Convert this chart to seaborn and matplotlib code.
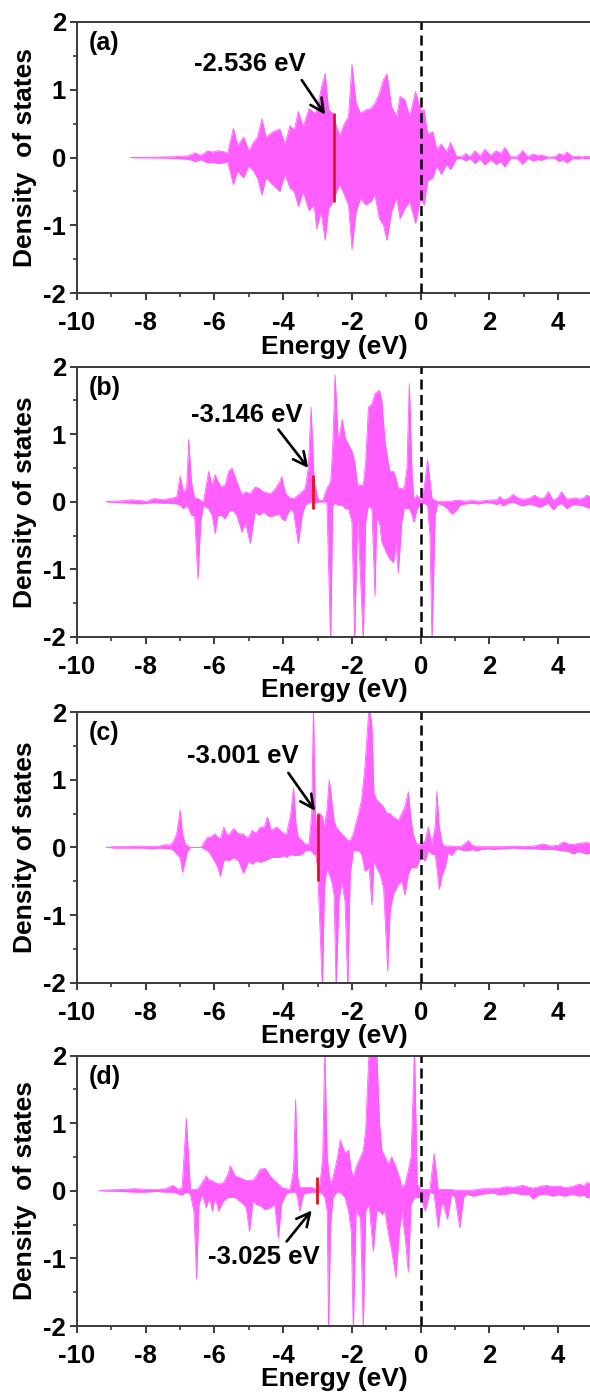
import matplotlib
matplotlib.use("Agg")
import matplotlib.pyplot as plt
import seaborn as sns
import numpy as np

# ---------------- data ----------------
energy_a = [-8.45, -8.3, -8.0, -7.7, -7.4, -7.15, -6.95, -6.75, -6.56, -6.4, -6.2, -6.05, -5.9, -5.75,
            -5.62, -5.45, -5.33, -5.15, -5.0, -4.87, -4.75, -4.62, -4.5, -4.3, -4.1, -3.95, -3.8, -3.68,
            -3.56, -3.42, -3.25, -3.1, -3.03, -2.9, -2.78, -2.68, -2.55, -2.45, -2.35, -2.22, -2.1, -2.0,
            -1.88, -1.75, -1.6, -1.45, -1.33, -1.2, -1.08, -0.98, -0.85, -0.7, -0.6, -0.46, -0.32, -0.15,
            0.0, 0.1, 0.2, 0.35, 0.47, 0.6, 0.75, 0.87, 1.04, 1.18, 1.32, 1.43, 1.58, 1.72, 1.87, 2.03,
            2.2, 2.33, 2.45, 2.62, 2.8, 2.97, 3.12, 3.27, 3.4, 3.51, 3.7, 3.9, 4.03, 4.15, 4.26, 4.42,
            4.58, 4.7, 4.77, 4.95]
up_a = [0, 0.004, 0.005, 0.006, 0.008, 0.012, 0.02, 0.025, 0.07, 0.03, 0.1, 0.08, 0.1, 0.09,
        0.06, 0.43, 0.18, 0.3, 0.1, 0.22, 0.3, 0.57, 0.3, 0.38, 0.42, 0.2, 0.47, 0.4,
        0.68, 0.45, 0.72, 0.66, 0.68, 1.0, 1.24, 0.7, 0.65, 0.45, 0.33, 0.5, 0.6, 1.37,
        0.8, 0.65, 0.7, 0.72, 0.8, 0.95, 1.15, 1.23, 0.75, 0.6, 0.9, 0.85, 0.6, 0.97,
        0.7, 0.7, 0.35, 0.38, 0.12, 0.2, 0.08, 0.22, 0.02, 0.01, 0.06, 0.01, 0.1, 0.02, 0.12, 0.03,
        0.1, 0.06, 0.15, 0.01, 0.01, 0.1, 0.01, 0.05, 0.03, 0.04, 0.005, 0.01, 0.06, 0.03, 0.08, 0.01,
        0.02, 0.005, 0.02, 0.01]
down_a = [0, -0.004, -0.005, -0.006, -0.008, -0.012, -0.02, -0.025, -0.06, -0.03, -0.08, -0.07, -0.09, -0.08,
          -0.06, -0.4, -0.2, -0.3, -0.12, -0.2, -0.3, -0.55, -0.3, -0.4, -0.5, -0.25, -0.45, -0.5,
          -0.72, -0.5, -0.78, -0.7, -1.05, -0.8, -1.22, -0.75, -0.65, -0.5, -0.4, -0.55, -0.7, -1.35,
          -0.8, -0.6, -0.7, -0.65, -0.55, -0.9, -1.0, -1.22, -0.8, -0.6, -0.9, -0.75, -0.65, -0.97,
          -0.6, -0.7, -0.35, -0.3, -0.12, -0.25, -0.1, -0.18, -0.02, -0.01, -0.05, -0.01, -0.09, -0.02, -0.11, -0.03,
          -0.1, -0.06, -0.14, -0.01, -0.01, -0.1, -0.01, -0.05, -0.03, -0.04, -0.005, -0.01, -0.06, -0.03, -0.08, -0.01,
          -0.02, -0.005, -0.02, -0.01]

energy_b = [-9.15, -9.0, -8.7, -8.4, -8.2, -7.95, -7.76, -7.5, -7.3, -7.1, -7.0, -6.9, -6.81, -6.75,
            -6.67, -6.58, -6.48, -6.4, -6.32, -6.17, -6.07, -5.98, -5.9, -5.8, -5.69, -5.59, -5.49, -5.35,
            -5.2, -5.1, -4.96, -4.82, -4.7, -4.58, -4.45, -4.38, -4.25, -4.1, -4.04, -3.95, -3.89, -3.78,
            -3.7, -3.56, -3.45, -3.36, -3.27, -3.19, -3.1, -2.97, -2.85, -2.73, -2.62, -2.56, -2.49, -2.4,
            -2.28, -2.2, -2.1, -2.0, -1.92, -1.84, -1.76, -1.67, -1.6, -1.52, -1.42, -1.33, -1.28, -1.2,
            -1.13, -1.04, -0.95, -0.89, -0.79, -0.72, -0.65, -0.55, -0.48, -0.4, -0.33, -0.25, -0.2, -0.1,
            0.0, 0.1, 0.2, 0.27, 0.33, 0.42, 0.5, 0.65, 0.78, 0.9, 1.0, 1.15, 1.3, 1.5, 1.7, 1.9, 2.1,
            2.21, 2.3, 2.4, 2.55, 2.69, 2.85, 2.98, 3.15, 3.32, 3.45, 3.6, 3.71, 3.86, 3.98, 4.1, 4.25,
            4.4, 4.5, 4.63, 4.75, 4.83, 4.95]
up_b = [0, 0.01, 0.015, 0.03, 0.02, 0.01, 0.05, 0.03, 0.05, 0.07, 0.38, 0.15, 0.2, 0.92,
        0.3, 0.05, 0.05, 0.02, 0.0, 0.45, 0.25, 0.4, 0.3, 0.22, 0.25, 0.45, 0.5, 0.3,
        0.1, 0.15, 0.12, 0.22, 0.2, 0.15, 0.13, 0.12, 0.18, 0.3, 0.37, 0.15, 0.1, 0.05,
        0.05, 0.1, 0.15, 0.2, 0.5, 1.4, 0.3, 0.02, 0.02, 0.2, 0.3, 0.8, 1.88, 0.9,
        1.22, 0.95, 0.85, 0.75, 0.6, 0.25, 0.25, 0.25, 0.6, 1.4, 1.45, 1.6, 1.62, 1.65,
        1.5, 0.9, 0.6, 0.45, 0.45, 0.35, 0.2, 0.2, 0.18, 0.5, 1.75, 0.4, 0.05, 0.1,
        0.02, 0.2, 0.62, 0.3, 0.05, 0.02, 0.01, 0.01, 0.01, 0.01, 0.02, 0.02, 0.01, 0.02, 0.01, 0.02, 0.03,
        0.03, 0.08, 0.03, 0.05, 0.11, 0.05, 0.04, 0.05, 0.1, 0.05, 0.06, 0.15, 0.02, 0.06, 0.15, 0.04,
        0.05, 0.06, 0.04, 0.06, 0.1, 0.07]
down_b = [0, -0.005, -0.01, -0.02, -0.03, -0.02, -0.01, -0.02, -0.02, -0.03, -0.05, -0.1, -0.05, -0.1,
          -0.2, -0.2, -1.15, -0.3, -0.05, -0.1, -0.2, -0.47, -0.2, -0.2, -0.25, -0.15, -0.12, -0.2,
          -0.45, -0.3, -0.62, -0.15, -0.2, -0.15, -0.2, -0.22, -0.2, -0.18, -0.25, -0.28, -0.2, -0.1,
          -0.15, -0.62, -0.2, -0.05, -0.02, 0.0, -0.02, 0.0, 0.0, 0.0, -2.1, -0.05, -0.02, -0.05,
          -0.05, -0.1, -0.1, -0.3, -2.1, -0.2, -1.0, -2.1, -0.3, -0.05, -0.1, -1.4, -0.25, -0.3,
          -0.6, -0.7, -0.8, -0.85, -0.9, -0.6, -1.05, -0.3, -0.1, -0.1, -0.1, -0.2, -0.3, -0.1,
          -0.03, -0.02, -0.05, -0.5, -2.1, -0.2, -0.02, -0.05, -0.1, -0.18, -0.15, -0.05, -0.03, -0.02, -0.03, -0.01, -0.02,
          -0.04, -0.02, -0.06, -0.02, 0.0, -0.04, -0.06, -0.03, -0.05, -0.08, -0.05, -0.02, -0.12, -0.05, -0.02, -0.1,
          -0.05, -0.04, -0.05, -0.06, -0.08, -0.1]

energy_c = [-9.15, -8.9, -8.5, -8.1, -7.8, -7.6, -7.43, -7.3, -7.2, -7.1, -7.0, -6.93, -6.85, -6.78,
            -6.7, -6.38, -6.3, -6.2, -6.12, -6.0, -5.9, -5.83, -5.73, -5.65, -5.59, -5.44, -5.3, -5.16,
            -5.08, -5.01, -4.9, -4.8, -4.67, -4.55, -4.46, -4.35, -4.2, -4.09, -3.98, -3.9, -3.78, -3.7,
            -3.62, -3.56, -3.45, -3.36, -3.25, -3.17, -3.12, -3.06, -3.0, -2.93, -2.86, -2.8, -2.73, -2.66,
            -2.59, -2.52, -2.46, -2.38, -2.3, -2.2, -2.12, -2.05, -1.96, -1.81, -1.72, -1.62, -1.5, -1.42,
            -1.36, -1.28, -1.18, -1.08, -0.99, -0.96, -0.89, -0.8, -0.65, -0.55, -0.46, -0.36, -0.28, -0.22,
            -0.12, 0.0, 0.13, 0.22, 0.32, 0.42, 0.47, 0.54, 0.63, 0.71, 0.8, 0.9, 1.05, 1.2, 1.39, 1.5,
            1.63, 1.8, 2.0, 2.11, 2.4, 2.69, 3.0, 3.3, 3.56, 3.8, 4.0, 4.15, 4.3, 4.44, 4.6, 4.83, 4.95]
up_c = [0, 0.01, 0.01, 0.02, 0.01, 0.02, 0.04, 0.03, 0.08, 0.2, 0.55, 0.2, 0.05, 0.02,
        0.0, 0.0, 0.08, 0.15, 0.15, 0.2, 0.15, 0.13, 0.3, 0.2, 0.18, 0.28, 0.2, 0.2,
        0.15, 0.15, 0.25, 0.2, 0.3, 0.3, 0.45, 0.25, 0.3, 0.25, 0.2, 0.2, 0.5, 0.88,
        0.3, 0.15, 0.1, 0.05, 0.05, 0.5, 2.1, 0.3, 0.5, 0.5, 0.45, 0.3, 0.55, 1.0,
        0.7, 0.4, 0.3, 0.25, 0.2, 0.15, 0.1, 0.1, 0.2, 0.5, 0.7, 1.2, 2.1, 1.8,
        0.8, 0.7, 0.65, 0.6, 0.5, 0.5, 0.5, 0.45, 0.4, 0.5, 0.6, 0.82, 0.4, 0.2,
        0.05, 0.05, 0.1, 0.3, 0.05, 0.3, 0.82, 0.3, 0.05, 0.02, 0.02, 0.02, 0.01, 0.02, 0.1, 0.03,
        0.01, 0.01, 0.01, 0.01, 0.01, 0.02, 0.01, 0.02, 0.05, 0.02, 0.03, 0.08, 0.05, 0.04, 0.06, 0.07, 0.06]
down_c = [0, -0.01, -0.01, -0.01, -0.02, -0.01, -0.02, -0.02, -0.04, -0.1, -0.15, -0.37, -0.2, -0.05,
          0.0, 0.0, -0.02, -0.05, -0.1, -0.2, -0.3, -0.43, -0.2, -0.18, -0.2, -0.15, -0.2, -0.38,
          -0.3, -0.2, -0.25, -0.2, -0.22, -0.2, -0.18, -0.15, -0.15, -0.15, -0.12, -0.15, -0.1, -0.12,
          -0.12, -0.12, -0.1, -0.05, -0.05, -0.05, -0.1, -0.1, -0.3, -1.2, -2.1, -0.6, -0.3, -0.4,
          -0.5, -0.7, -2.1, -0.8, -0.5, -0.8, -2.1, -0.4, -0.05, -0.05, -0.1, -0.35, -0.3, -0.85,
          -0.2, -0.3, -0.4, -0.6, -1.5, -1.83, -0.95, -0.7, -0.55, -0.5, -0.7, -0.4, -0.3, -0.3,
          -0.3, -0.15, -0.2, -0.05, -0.1, -0.1, -0.3, -0.62, -0.4, -0.3, -0.08, -0.12, -0.02, -0.04, -0.05, -0.03,
          -0.05, -0.03, -0.02, -0.03, -0.02, -0.01, -0.02, -0.02, -0.03, -0.03, -0.04, -0.05, -0.06, -0.1, -0.06, -0.1, -0.08]

energy_d = [-9.35, -9.1, -8.7, -8.3, -8.0, -7.7, -7.4, -7.21, -7.05, -6.94, -6.82, -6.7, -6.6, -6.52,
            -6.45, -6.36, -6.24, -6.15, -6.06, -5.98, -5.88, -5.74, -5.6, -5.54, -5.4, -5.2, -5.08, -4.98,
            -4.88, -4.78, -4.67, -4.52, -4.38, -4.25, -4.14, -4.05, -3.92, -3.8, -3.7, -3.64, -3.58, -3.52,
            -3.41, -3.17, -3.03, -2.93, -2.85, -2.79, -2.72, -2.68, -2.62, -2.55, -2.44, -2.34, -2.2, -2.1,
            -2.02, -1.96, -1.88, -1.75, -1.67, -1.6, -1.5, -1.38, -1.28, -1.2, -1.13, -1.04, -0.95, -0.84,
            -0.72, -0.62, -0.55, -0.45, -0.36, -0.28, -0.18, -0.1, 0.0, 0.13, 0.27, 0.39, 0.51, 0.6,
            0.66, 0.78, 0.9, 1.0, 1.14, 1.25, 1.34, 1.53, 1.8, 2.1, 2.3, 2.49, 2.7, 2.98, 3.15, 3.27,
            3.45, 3.66, 3.85, 4.0, 4.2, 4.4, 4.63, 4.75, 4.83, 4.95]
up_d = [0, 0.01, 0.02, 0.03, 0.02, 0.02, 0.03, 0.08, 0.02, 0.05, 1.07, 0.02, 0.02, 0.02,
        0.05, 0.12, 0.22, 0.15, 0.15, 0.12, 0.1, 0.12, 0.25, 0.37, 0.22, 0.18, 0.15, 0.15,
        0.15, 0.22, 0.32, 0.33, 0.22, 0.15, 0.1, 0.05, 0.03, 0.02, 0.3, 1.35, 0.2, 0.05,
        0.05, 0.05, 0.02, 0.1, 0.5, 2.1, 0.5, 0.3, 0.1, 0.2, 0.45, 0.75, 0.55, 0.6,
        0.3, 0.2, 0.35, 0.5, 0.6, 0.9, 2.1, 2.1, 2.1, 1.0, 0.6, 0.5, 0.4, 0.5,
        0.35, 0.2, 0.05, 0.1, 0.3, 0.5, 2.1, 0.1, 0.02, 0.02, 0.02, 0.55, 0.02, 0.02,
        0.02, 0.02, 0.02, 0.01, 0.01, 0.01, 0.01, 0.01, 0.03, 0.03, 0.04, 0.06, 0.05, 0.08, 0.05, 0.04,
        0.06, 0.08, 0.06, 0.07, 0.05, 0.06, 0.1, 0.07, 0.12, 0.11]
down_d = [0, -0.005, -0.01, -0.02, -0.02, -0.01, -0.02, -0.02, -0.05, -0.06, -0.02, -0.05, -0.3, -1.3,
          -0.2, -0.05, -0.25, -0.1, -0.3, -0.1, -0.3, -0.15, -0.1, -0.1, -0.1, -0.18, -0.25, -0.6,
          -0.15, -0.2, -0.22, -0.28, -0.25, -0.2, -0.7, -0.2, -0.05, -0.02, -0.02, -0.02, -0.1, -0.3,
          -0.05, -0.02, -0.02, -0.02, -0.05, -0.1, -0.3, -2.1, -0.5, -0.1, -0.02, -0.02, -0.1, -0.3,
          -0.6, -2.1, -0.3, -0.4, -2.1, -0.3, -0.2, -0.9, -0.3, -0.3, -0.35, -0.3, -0.6, -0.9,
          -1.28, -0.6, -0.3, -0.7, -1.2, -0.2, -0.1, -0.1, -0.1, -0.3, -0.02, -0.05, -0.55, -0.2,
          -0.2, -0.42, -0.05, -0.1, -0.55, -0.1, -0.05, -0.08, -0.05, -0.03, -0.06, -0.05, -0.03, -0.06, -0.05, -0.12,
          -0.06, -0.05, -0.08, -0.06, -0.08, -0.05, -0.08, -0.06, -0.1, -0.09]

panel_labels = ["(a)", "(b)", "(c)", "(d)"]
ylabels = ["Density  of states", "Density of states", "Density of states", "Density  of states"]
marker_energy = [-2.536, -3.146, -3.001, -3.025]
marker_low = [-0.65, -0.1, -0.5, -0.2]
marker_high = [0.65, 0.4, 0.5, 0.2]
marker_text = ["-2.536 eV", "-3.146 eV", "-3.001 eV", "-3.025 eV"]
text_xy = [(-4.96, 1.38), (-5.05, 1.29), (-5.18, 1.35), (-4.55, -0.98)]
arrow_tail = [(-3.46, 1.14), (-4.14, 1.07), (-3.85, 1.10), (-3.90, -0.75)]
arrow_head = [(-2.78, 0.63), (-3.27, 0.50), (-3.07, 0.54), (-3.17, -0.29)]
x_ticks = [-10, -8, -6, -4, -2, 0, 2, 4]
y_ticks = [-2, -1, 0, 1, 2]

energies = [energy_a, energy_b, energy_c, energy_d]
ups = [up_a, up_b, up_c, up_d]
downs = [down_a, down_b, down_c, down_d]

# ---------------- style ----------------
sns.set_theme(style="ticks")
plt.rcParams["font.family"] = ["Liberation Sans", "DejaVu Sans"]
plt.rcParams["font.weight"] = "bold"
plt.rcParams["axes.labelweight"] = "bold"
plt.rcParams["axes.unicode_minus"] = False

MAGENTA = "#FF5EFF"
RED = "#E3141B"
SPINE = "#3a3a3a"

fig = plt.figure(figsize=(5.9, 13.97), dpi=100)
W, H = 590.0, 1397.0
left_px, right_px = 77.0, 592.5
tops = [21.7, 366.7, 712.0, 1055.5]
bottoms = [293.3, 637.0, 982.7, 1326.0]

for i in range(4):
    ax = fig.add_axes([left_px / W, 1 - bottoms[i] / H, (right_px - left_px) / W,
                       (bottoms[i] - tops[i]) / H])
    E = np.array(energies[i])
    up = np.array(ups[i])
    dn = np.array(downs[i])
    ax.fill_between(E, dn, up, color=MAGENTA, linewidth=0, zorder=2)
    sns.lineplot(x=E, y=up, ax=ax, color=MAGENTA, lw=0.6, sort=False, estimator=None, zorder=2)
    sns.lineplot(x=E, y=dn, ax=ax, color=MAGENTA, lw=0.6, sort=False, estimator=None, zorder=2)

    ax.axvline(0, color="black", lw=1.8, ls=(0, (4, 2.2)), zorder=3)
    ax.vlines(marker_energy[i], marker_low[i], marker_high[i], color=RED, lw=2.0, zorder=4)

    ax.text(text_xy[i][0], text_xy[i][1], marker_text[i], ha="center", va="center",
            fontsize=18.5, fontweight="bold", color="black", zorder=5)
    ax.annotate("", xy=arrow_head[i], xytext=arrow_tail[i],
                arrowprops=dict(arrowstyle="->", lw=1.9, color="black",
                                mutation_scale=24, shrinkA=0, shrinkB=0), zorder=5)
    ax.text(0.022, 0.965, panel_labels[i], transform=ax.transAxes, ha="left", va="top",
            fontsize=18, fontweight="bold", color="black")

    ax.set_xlim(-10, 5)
    ax.set_ylim(-2, 2)
    ax.set_xticks(x_ticks)
    ax.set_yticks(y_ticks)
    ax.set_xticks(np.arange(-10, 5.01, 1), minor=True)
    ax.set_yticks(np.arange(-2, 2.01, 0.5), minor=True)
    ax.set_xticklabels([str(t) for t in x_ticks])
    ax.set_yticklabels([str(t) for t in y_ticks])
    ax.tick_params(which="major", direction="out", length=5, width=1.4, color=SPINE,
                   labelsize=18.5, labelcolor="black")
    ax.tick_params(axis="x", which="major", pad=8)
    ax.tick_params(axis="y", which="major", pad=3)
    ax.tick_params(which="minor", direction="out", length=3, width=1.2, color=SPINE)
    for lab in ax.get_xticklabels() + ax.get_yticklabels():
        lab.set_fontweight("bold")
    for side in ["left", "bottom", "top", "right"]:
        ax.spines[side].set_color(SPINE)
        ax.spines[side].set_linewidth(1.4)
        ax.spines[side].set_visible(True)

    ax.set_xlabel("Energy (eV)", fontsize=19, fontweight="bold", color="black")
    ax.set_ylabel(ylabels[i], fontsize=19, fontweight="bold", color="black")
    ax.xaxis.set_label_coords(0.5, -0.152)
    ax.yaxis.set_label_coords(-0.078, 0.5)
    ax.set_facecolor("white")

fig.patch.set_facecolor("white")
fig.savefig("out.png", dpi=100, facecolor="white")
